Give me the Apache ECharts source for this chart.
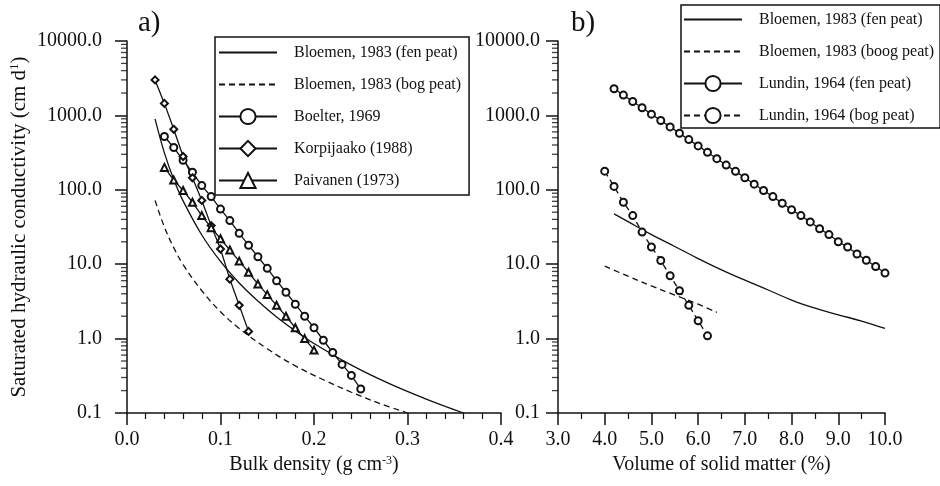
<!DOCTYPE html>
<html><head><meta charset="utf-8">
<script src="https://cdn.jsdelivr.net/npm/echarts@6/dist/echarts.min.js"></script>
<style>html,body{margin:0;padding:0;background:#fff}#c{width:940px;height:486px}</style>
</head><body><div id="c"></div>
<script>
// ---------- Panel a) : bulk density (g cm-3) vs K (cm d-1) ----------
const bloemenFenX_a = [0.03,0.04,0.05,0.06,0.08,0.10,0.12,0.14,0.16,0.18,0.20,0.24,0.28,0.32,0.36];
const bloemenFenK_a = [900,314,138,71,24.7,10.9,5.6,3.2,1.95,1.27,0.86,0.44,0.25,0.154,0.1];
const bloemenBogX_a = [0.03,0.04,0.05,0.06,0.08,0.10,0.12,0.15,0.18,0.21,0.24,0.27,0.30];
const bloemenBogK_a = [72,31.6,16.7,9.9,4.4,2.3,1.37,0.73,0.43,0.28,0.19,0.135,0.1];
const boelterX = [0.04,0.05,0.06,0.07,0.08,0.09,0.10,0.11,0.12,0.13,0.14,0.15,0.16,0.17,0.18,0.19,0.20,0.21,0.22,0.23,0.24,0.25];
const boelterK = [520,370,250,172,114,81,55,38.6,26,18,12.6,8.8,6.0,4.2,2.9,2.0,1.4,0.95,0.65,0.45,0.32,0.21];
const korpiX = [0.03,0.04,0.05,0.06,0.07,0.08,0.09,0.10,0.11,0.12,0.13];
const korpiK = [3000,1450,650,280,145,72,33,16,6.3,2.8,1.25];
const paivX = [0.04,0.05,0.06,0.07,0.08,0.09,0.10,0.11,0.12,0.13,0.14,0.15,0.16,0.17,0.18,0.19,0.20];
const paivK = [200,135,98,68,45,31,22,15.5,11,7.8,5.4,3.9,2.8,2.0,1.4,1.0,0.7];

// ---------- Panel b) : volume of solid matter (%) vs K ----------
const bloemenFenX_b = [4.2,4.5,5.0,5.5,6.0,6.5,7.0,7.5,8.0,8.5,9.0,9.5,10.0];
const bloemenFenK_b = [47.5,37.3,25,17.3,11.9,8.4,6.1,4.5,3.3,2.57,2.09,1.72,1.37];
const bloemenBogX_b = [4.0,4.5,5.0,5.5,6.0,6.4];
const bloemenBogK_b = [9.4,6.9,5.1,3.85,2.9,2.25];
const lundinFenX = [4.2,4.4,4.6,4.8,5.0,5.2,5.4,5.6,5.8,6.0,6.2,6.4,6.6,6.8,7.0,7.2,7.4,7.6,7.8,8.0,8.2,8.4,8.6,8.8,9.0,9.2,9.4,9.6,9.8,10.0];
const lundinFenK = [2280,1875,1540,1265,1040,853,701,576,473,389,319,262,215,177,145,119,98,81,66,54,45,37,30,25,20,17,13.7,11.3,9.3,7.6];
const lundinBogX = [4.0,4.2,4.4,4.6,4.8,5.0,5.2,5.4,5.6,5.8,6.0,6.2];
const lundinBogK = [178,111,68,45,27,17,11.2,7.0,4.4,2.8,1.74,1.09];

// ---------- axis ticks / legend labels ----------
const yMinorTicks = [0.2,0.3,0.4,0.5,0.6,0.7,0.8,0.9,2,3,4,5,6,7,8,9,20,30,40,50,60,70,80,90,200,300,400,500,600,700,800,900,2000,3000,4000,5000,6000,7000,8000,9000];
const namesA = ['Bloemen, 1983 (fen peat)','Bloemen, 1983 (bog peat)','Boelter, 1969','Korpijaako (1988)','Paivanen (1973)'];
const namesB = ['Bloemen, 1983 (fen peat)','Bloemen, 1983 (boog peat)','Lundin, 1964 (fen peat)','Lundin, 1964 (bog peat)'];

const zip = (xs, ys) => xs.map((x, i) => [x, ys[i]]);
const FONT = '"Liberation Serif", "Times New Roman", serif';
const INK = '#111';

function mainY(grid, withName, margin) {
  const ax = {
    type: 'log', logBase: 10, gridIndex: grid, min: 0.1, max: 10000, position: 'left',
    axisLine: { show: true, lineStyle: { color: INK, width: 1.5 } },
    axisTick: { show: true, length: 12, lineStyle: { color: INK, width: 1.5 } },
    axisLabel: { margin: margin, fontFamily: FONT, fontSize: 20, color: INK, formatter: v => Number(v).toFixed(1) },
    splitLine: { show: false }
  };
  if (withName) {
    ax.name = 'Saturated hydraulic conductivity (cm d{s|1})';
    ax.nameLocation = 'middle';
    ax.nameGap = 97;
    ax.nameTextStyle = { fontFamily: FONT, fontSize: 21, color: INK, rich: { s: { fontFamily: FONT, fontSize: 13, verticalAlign: 'top', color: INK, padding: [0,0,9,0] } } };
  }
  return ax;
}
function xAx(grid, min, max, interval, minorSplit, name) {
  return {
    type: 'value', gridIndex: grid, min: min, max: max, interval: interval,
    axisLine: { show: true, onZero: false, lineStyle: { color: INK, width: 1.5 } },
    axisTick: { show: true, inside: false, length: 12, lineStyle: { color: INK, width: 1.5 } },
    minorTick: { show: true, splitNumber: minorSplit, length: 6, lineStyle: { color: INK, width: 1.2 } },
    axisLabel: { margin: 17, fontFamily: FONT, fontSize: 20, color: INK, formatter: v => Number(v).toFixed(1) },
    splitLine: { show: false }, minorSplitLine: { show: false },
    name: name, nameLocation: 'middle', nameGap: 42,
    nameTextStyle: { fontFamily: FONT, fontSize: 20, color: INK, rich: { s: { fontFamily: FONT, fontSize: 12, verticalAlign: 'top', color: INK, padding: [0,0,8,0] } } }
  };
}
// minor ticks of a log y axis, placed through the axis scale as short dashes left of the axis line
function minorTickSeries(xi, yi, xAtAxis) {
  return {
    type: 'scatter', xAxisIndex: xi, yAxisIndex: yi,
    data: yMinorTicks.map(v => [xAtAxis, v]),
    symbol: 'rect', symbolSize: [6, 1.3], symbolOffset: [-3, 0],
    itemStyle: { color: INK }, clip: false, silent: true, z: 1,
    emphasis: { disabled: true }, tooltip: { show: false }
  };
}
function lineSeries(name, xi, yi, xs, ys, symbol, dashed) {
  return {
    name: name, type: 'line', xAxisIndex: xi, yAxisIndex: yi, data: zip(xs, ys),
    symbol: symbol || 'none', symbolSize: 7, showSymbol: !!symbol,
    smooth: symbol ? false : 0.4,
    lineStyle: { color: INK, width: 1.3, type: dashed ? [6, 4] : 'solid' },
    itemStyle: { color: INK, borderColor: INK, borderWidth: 1.3 },
    emphasis: { disabled: true }, silent: true, z: symbol ? 3 : 2
  };
}
function legend(left, top, names, pad) {
  return {
    show: true, orient: 'vertical', left: left, top: top,
    data: names.map(n => n.indexOf('Bloemen') === 0 ? { name: n, itemStyle: { opacity: 0 } } : { name: n }),
    itemWidth: 58, itemHeight: 19, itemGap: 13, padding: pad,
    borderColor: INK, borderWidth: 1.5, backgroundColor: '#fff',
    selectedMode: false,
    textStyle: { fontFamily: FONT, fontSize: 16, color: INK, lineHeight: 19, padding: [0, 0, 0, 12] }
  };
}

const chart = echarts.init(document.getElementById('c'), null, { renderer: 'canvas' });
chart.setOption({
  animation: false,
  backgroundColor: '#fff',
  title: [
    { text: 'a)', left: 133, top: 4, textStyle: { fontFamily: FONT, fontSize: 29, fontWeight: 'normal', color: INK } },
    { text: 'b)', left: 566, top: 4, textStyle: { fontFamily: FONT, fontSize: 29, fontWeight: 'normal', color: INK } }
  ],
  grid: [
    { left: 127, right: 439, top: 41, bottom: 73 },
    { left: 558, right: 55, top: 41, bottom: 73 }
  ],
  xAxis: [
    xAx(0, 0, 0.4, 0.1, 5, 'Bulk density (g cm{s|-3})'),
    xAx(1, 3, 10, 1, 2, 'Volume of solid matter (%)')
  ],
  yAxis: [ mainY(0, true, 25), mainY(1, false, 18) ],
  legend: [
    legend(215, 37, namesA, [6, 8, 5, 3]),
    legend(681, 5, namesB, [5, 6, 3, 2])
  ],
  series: [
    minorTickSeries(0, 0, 0),
    minorTickSeries(1, 1, 3),
    lineSeries(namesA[0], 0, 0, bloemenFenX_a, bloemenFenK_a, null, false),
    lineSeries(namesA[1], 0, 0, bloemenBogX_a, bloemenBogK_a, null, true),
    lineSeries(namesA[2], 0, 0, boelterX, boelterK, 'emptyCircle', false),
    lineSeries(namesA[3], 0, 0, korpiX, korpiK, 'emptyDiamond', false),
    lineSeries(namesA[4], 0, 0, paivX, paivK, 'emptyTriangle', false),
    lineSeries(namesB[0], 1, 1, bloemenFenX_b, bloemenFenK_b, null, false),
    lineSeries(namesB[1], 1, 1, bloemenBogX_b, bloemenBogK_b, null, true),
    lineSeries(namesB[2], 1, 1, lundinFenX, lundinFenK, 'emptyCircle', false),
    lineSeries(namesB[3], 1, 1, lundinBogX, lundinBogK, 'emptyCircle', true)
  ]
});
</script></body></html>
